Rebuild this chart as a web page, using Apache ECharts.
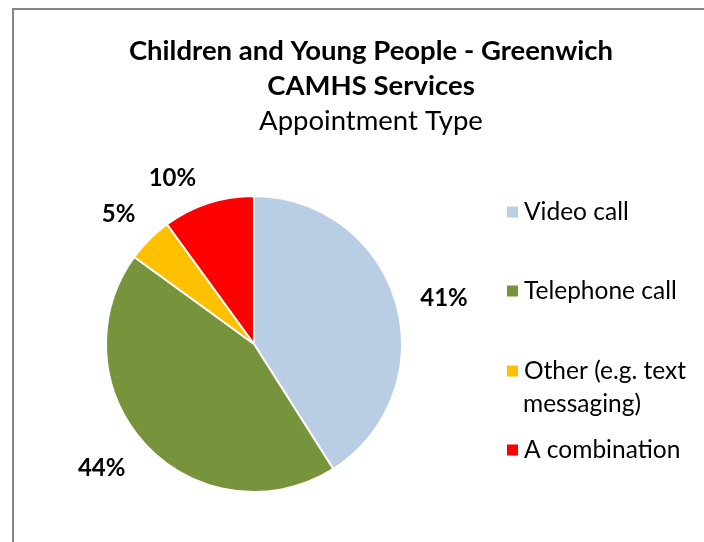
<!DOCTYPE html>
<html><head><meta charset="utf-8">
<script src="https://cdn.jsdelivr.net/npm/echarts@6/dist/echarts.min.js"></script>
<style>html,body{margin:0;padding:0;background:#fff}#c{width:704px;height:542px}</style>
</head><body><div id="c"></div>
<script>
const categories = ['Video call', 'Telephone call', 'Other (e.g. text messaging)', 'A combination'];
const legendLabels = ['Video call', 'Telephone call', 'Other (e.g. text', 'A combination'];
const values = [41, 44, 5, 10];
const colors = ['#B9CDE5', '#77933C', '#FFC000', '#FF0000'];
const labelLen = [23, 27, 17, 36];
const labelShift = [[-3, 2], [4, 4], [3, -13], [4, 9]];
const legendTops = [192, 271, 351, 430];

const FONT = 'Lato';
const chart = echarts.init(document.getElementById('c'));
const legends = categories.map((c, i) => ({
  data: [c], left: 500, top: legendTops[i], orient: 'vertical',
  itemWidth: 13, itemHeight: 13, itemGap: 0, icon: 'rect', selectedMode: false,
  formatter: () => legendLabels[i],
  textStyle: { fontFamily: FONT, fontSize: 24.5, color: '#000', lineHeight: 30 }
}));
chart.setOption({
  animation: false,
  backgroundColor: '#fff',
  graphic: [
    { type: 'rect', shape: { x: 13, y: 9, width: 900, height: 700 },
      style: { fill: 'none', stroke: '#868686', lineWidth: 2 } },
    { type: 'text', left: 523, top: 389,
      style: { text: 'messaging)', fontFamily: FONT, fontSize: 24.5, fill: '#000', lineHeight: 30 } }
  ],
  title: [
    { text: 'Children and Young People - Greenwich\nCAMHS Services', left: 366, textAlign: 'center', top: 29,
      textStyle: { fontFamily: FONT, fontWeight: 'bold', fontSize: 27.5, color: '#000', lineHeight: 35 } },
    { text: 'Appointment Type', left: 366, textAlign: 'center', top: 102,
      textStyle: { fontFamily: FONT, fontWeight: 'normal', fontSize: 27.5, color: '#000' } }
  ],
  legend: legends,
  series: [{
    type: 'pie', center: [254, 344], radius: 148, startAngle: 90, clockwise: true,
    avoidLabelOverlap: false,
    itemStyle: { borderColor: '#fff', borderWidth: 2 },
    label: { show: true, position: 'outside', formatter: '{d}%', fontFamily: FONT, fontWeight: 'bold', fontSize: 24, color: '#000' },
    labelLine: { show: false, length2: 0 },
    labelLayout: (p) => ({ dx: labelShift[p.dataIndex][0], dy: labelShift[p.dataIndex][1] }),
    data: categories.map((c, i) => ({ name: c, value: values[i], itemStyle: { color: colors[i] }, labelLine: { show: false, length: labelLen[i], length2: 0 } }))
  }]
});
</script></body></html>
